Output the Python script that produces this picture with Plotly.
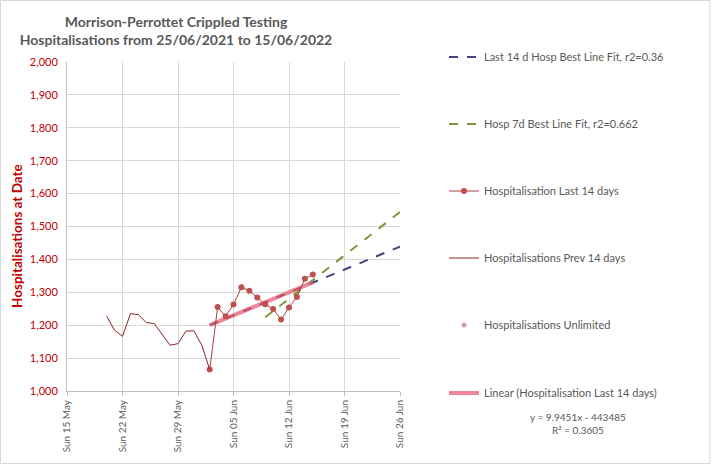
import plotly.graph_objects as go

# ---- data ----
prev_dates = ["2022-05-20", "2022-05-21", "2022-05-22", "2022-05-23", "2022-05-24",
              "2022-05-25", "2022-05-26", "2022-05-27", "2022-05-28", "2022-05-29",
              "2022-05-30", "2022-05-31", "2022-06-01", "2022-06-02"]
prev_vals = [1227, 1185, 1166, 1235, 1232, 1208, 1205, 1172, 1139, 1144,
             1182, 1183, 1139, 1065]

last_dates = ["2022-06-02", "2022-06-03", "2022-06-04", "2022-06-05", "2022-06-06",
              "2022-06-07", "2022-06-08", "2022-06-09", "2022-06-10", "2022-06-11",
              "2022-06-12", "2022-06-13", "2022-06-14", "2022-06-15"]
last_vals = [1065, 1255, 1227, 1263, 1315, 1305, 1284, 1264, 1249, 1217,
             1254, 1286, 1341, 1354]

fit14_dates = ["2022-06-02", "2022-06-26"]
fit14_vals = [1200, 1439]

fit7_dates = ["2022-06-09", "2022-06-26"]
fit7_vals = [1224, 1544]

linear_dates = ["2022-06-02", "2022-06-15"]
linear_vals = [1200, 1330]

y_ticks = [1000, 1100, 1200, 1300, 1400, 1500, 1600, 1700, 1800, 1900, 2000]
x_ticks = ["2022-05-15", "2022-05-22", "2022-05-29", "2022-06-05",
           "2022-06-12", "2022-06-19", "2022-06-26"]

FONT = "Lato"
GRAY = "#595959"

L, R, T, B = 67, 400, 62, 391
W, H = R - L, B - T
def px(x):
    return (x - L) / W
def py(y):
    return (B - y) / H

fig = go.Figure()

fig.add_trace(go.Scatter(x=fit14_dates, y=fit14_vals, mode="lines",
                         name="Last 14 d Hosp Best Line Fit, r2=0.36",
                         line=dict(color="#46437f", width=2, dash="dash"),
                         legend="legend"))
fig.add_trace(go.Scatter(x=fit7_dates, y=fit7_vals, mode="lines",
                         name="Hosp 7d Best Line Fit, r2=0.662",
                         line=dict(color="#7a9a3a", width=2, dash="dash"),
                         legend="legend2"))
fig.add_trace(go.Scatter(x=linear_dates, y=linear_vals, mode="lines",
                         name="Linear (Hospitalisation Last 14 days)",
                         line=dict(color="rgba(232,90,110,0.72)", width=4),
                         legend="legend6"))
fig.add_trace(go.Scatter(x=last_dates, y=last_vals, mode="lines+markers",
                         name="Hospitalisation Last 14 days",
                         line=dict(color="#a8403e", width=1),
                         marker=dict(color="#c0504d", size=6),
                         legend="legend3"))
fig.add_trace(go.Scatter(x=prev_dates, y=prev_vals, mode="lines",
                         name="Hospitalisations Prev 14 days",
                         line=dict(color="#8b2323", width=1),
                         legend="legend4"))
fig.add_trace(go.Scatter(x=[None], y=[None], mode="markers",
                         name="Hospitalisations Unlimited",
                         marker=dict(color="#d8a0a0", size=5),
                         legend="legend5"))

fig.add_shape(type="rect", xref="paper", yref="paper",
              x0=px(0.5), x1=px(710), y0=py(463.5), y1=py(0.5),
              line=dict(color="#d9d9d9", width=1))

fig.add_annotation(xref="paper", yref="paper", x=px(578), y=py(423.5),
                   text="y = 9.9451x - 443485<br>R² = 0.3605", showarrow=False,
                   font=dict(family=FONT, size=10, color=GRAY), align="center",
                   xanchor="center", yanchor="middle")

# y-axis title
fig.add_annotation(xref="paper", yref="paper", x=px(17), y=py(236),
                   text="<b>Hospitalisations at Date</b>", showarrow=False,
                   textangle=-90, xanchor="center", yanchor="middle",
                   font=dict(family=FONT, size=13.5, color="#c00000"))

legend_centers = [57, 124, 191, 258, 325, 393]
legend_names = ["legend", "legend2", "legend3", "legend4", "legend5", "legend6"]
leg_common = dict(x=px(444), xanchor="left", yanchor="middle",
                  font=dict(family=FONT, size=11, color=GRAY),
                  bgcolor="rgba(0,0,0,0)", itemwidth=30)
legends = {}
for nm, cy in zip(legend_names, legend_centers):
    legends[nm] = dict(leg_common, y=py(cy))

fig.update_layout(
    width=712, height=465,
    margin=dict(l=L, r=712 - R, t=T, b=465 - B),
    paper_bgcolor="white", plot_bgcolor="white",
    title=dict(text="<b>Morrison-Perrottet Crippled Testing<br>Hospitalisations from 25/06/2021 to 15/06/2022</b>",
               x=176 / 712, xanchor="center", y=1 - 27 / 465, yanchor="middle",
               font=dict(family=FONT, size=14, color=GRAY)),
    showlegend=True,
    **legends,
    xaxis=dict(type="date", range=["2022-05-15", "2022-06-26"],
               tickvals=x_ticks, tickformat="%a %d %b", tickangle=-90,
               showgrid=True, gridcolor="#d9d9d9", gridwidth=1,
               showline=True, linecolor="#bfbfbf", zeroline=False,
               ticks="outside", ticklen=4, tickcolor="#bfbfbf",
               automargin=False,
               tickfont=dict(family=FONT, size=10, color=GRAY)),
    yaxis=dict(range=[1000, 2000], tickvals=y_ticks, tickformat=",d",
               showgrid=True, gridcolor="#d9d9d9", gridwidth=1,
               showline=True, linecolor="#bfbfbf", zeroline=False,
               automargin=False, ticklabelstandoff=6,
               tickfont=dict(family=FONT, size=11, color="#c00000")),
)

fig.write_html("out.html", config={"displayModeBar": False},
               post_script="document.body.style.margin='0';")
